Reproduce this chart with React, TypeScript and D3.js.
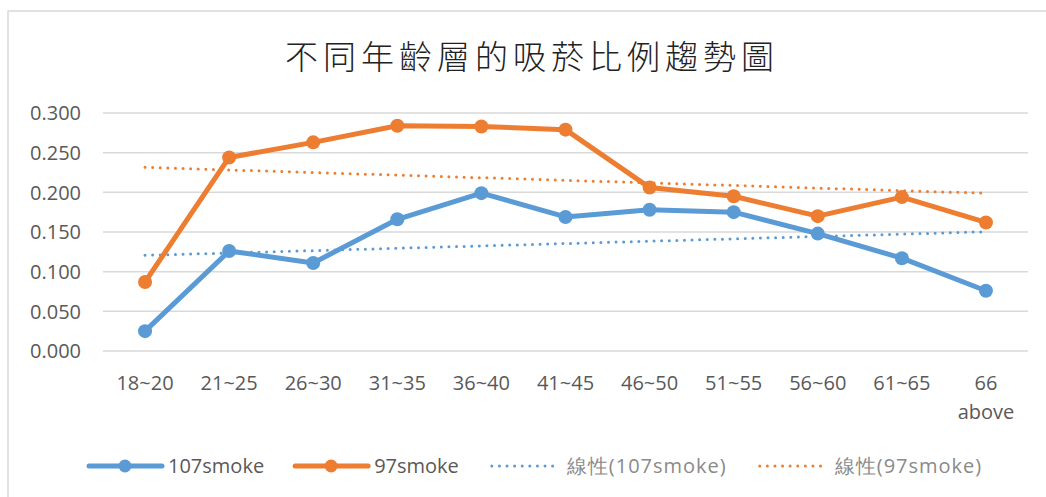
import { useEffect, useRef } from "react"
import * as d3 from "d3"

const title = "不同年齡層的吸菸比例趨勢圖"

const ageGroups = ["18~20", "21~25", "26~30", "31~35", "36~40", "41~45", "46~50", "51~55", "56~60", "61~65", "66\nabove"]

const smoke107 = [0.025, 0.126, 0.111, 0.166, 0.199, 0.169, 0.178, 0.175, 0.148, 0.117, 0.076]
const smoke97 = [0.087, 0.244, 0.263, 0.284, 0.283, 0.279, 0.206, 0.195, 0.17, 0.194, 0.162]

const yTicks = [0, 0.05, 0.1, 0.15, 0.2, 0.25, 0.3]

const seriesNames = ["107smoke", "97smoke"]
const trendNames = ["線性(107smoke)", "線性(97smoke)"]

const colors = ["#5b9bd5", "#ed7d31"]

const W = 1046
const H = 497
const FONT = "'Open Sans', 'Noto Sans', sans-serif"

// least squares fit over the category index
function linearFit(values: number[]) {
  const xs = values.map((_, i) => i)
  const mx = d3.mean(xs) as number
  const my = d3.mean(values) as number
  const sxy = d3.sum(values, (v, i) => (i - mx) * (v - my))
  const sxx = d3.sum(xs, (x) => (x - mx) * (x - mx))
  const slope = sxy / sxx
  return (i: number) => my + slope * (i - mx)
}

export default function App() {
  const svgRef = useRef<SVGSVGElement>(null)

  useEffect(() => {
    if (!svgRef.current) return
    const svg = d3.select(svgRef.current)
    svg.selectAll("*").remove()

    svg.append("rect").attr("width", W).attr("height", H).attr("fill", "#fff")

    // chart frame (runs off the right and bottom of the picture)
    svg
      .append("rect")
      .attr("x", 8)
      .attr("y", 11)
      .attr("width", W + 20)
      .attr("height", H + 20)
      .attr("fill", "none")
      .attr("stroke", "#d9d9d9")
      .attr("stroke-width", 1.5)

    svg
      .append("text")
      .attr("x", 532)
      .attr("y", 69)
      .attr("text-anchor", "middle")
      .attr("font-family", "'Noto Sans CJK TC', sans-serif")
      .attr("font-size", "33px")
      .attr("font-weight", 300)
      .attr("letter-spacing", "5px")
      .attr("fill", "#222")
      .text(title)

    const x = d3.scaleBand<string>().domain(ageGroups).range([103, 1028])
    const cx = (i: number) => (x(ageGroups[i]) as number) + x.bandwidth() / 2
    const y = d3.scaleLinear().domain([0, 0.3]).range([351, 113])

    // gridlines
    svg
      .append("g")
      .selectAll("line")
      .data(yTicks)
      .enter()
      .append("line")
      .attr("x1", 103)
      .attr("x2", 1028)
      .attr("y1", (d) => y(d))
      .attr("y2", (d) => y(d))
      .attr("stroke", "#d9d9d9")
      .attr("stroke-width", 1.5)

    // y labels
    svg
      .append("g")
      .selectAll("text")
      .data(yTicks)
      .enter()
      .append("text")
      .attr("x", 81)
      .attr("y", (d) => y(d))
      .attr("dy", "0.36em")
      .attr("text-anchor", "end")
      .attr("font-family", FONT)
      .attr("font-size", "20px")
      .attr("fill", "#595959")
      .text((d) => d3.format(".3f")(d))

    // x labels
    const xl = svg
      .append("g")
      .selectAll("text")
      .data(ageGroups)
      .enter()
      .append("text")
      .attr("text-anchor", "middle")
      .attr("font-family", FONT)
      .attr("font-size", "20px")
      .attr("fill", "#595959")
    xl.each(function (d, i) {
      const t = d3.select(this)
      d.split("\n").forEach((part, j) => {
        t.append("tspan").attr("x", cx(i)).attr("y", 390 + j * 29).text(part)
      })
    })

    const line = d3
      .line<number>()
      .x((_, i) => cx(i))
      .y((d) => y(d))

    const allSeries = [smoke107, smoke97]

    // trend lines
    allSeries.forEach((vals, s) => {
      const fit = linearFit(vals)
      const n = vals.length - 1
      svg
        .append("line")
        .attr("x1", cx(0))
        .attr("x2", cx(n))
        .attr("y1", y(fit(0)))
        .attr("y2", y(fit(n)))
        .attr("stroke", colors[s])
        .attr("stroke-width", 3)
        .attr("stroke-linecap", "round")
        .attr("stroke-dasharray", "0 7.6")
    })

    // data lines + markers
    allSeries.forEach((vals, s) => {
      svg
        .append("path")
        .datum(vals)
        .attr("d", line)
        .attr("fill", "none")
        .attr("stroke", colors[s])
        .attr("stroke-width", 5)
        .attr("stroke-linejoin", "round")
      svg
        .append("g")
        .selectAll("circle")
        .data(vals)
        .enter()
        .append("circle")
        .attr("cx", (_, i) => cx(i))
        .attr("cy", (d) => y(d))
        .attr("r", 7)
        .attr("fill", colors[s])
    })

    // legend
    const items = [
      ...seriesNames.map((name, i) => ({ name, color: colors[i], trend: false })),
      ...trendNames.map((name, i) => ({ name, color: colors[i], trend: true })),
    ]
    const ly = 466
    let lx = 89
    items.forEach((it) => {
      const g = svg.append("g").attr("transform", `translate(${lx},0)`)
      if (it.trend) {
        g.append("line")
          .attr("x1", 2)
          .attr("x2", 66)
          .attr("y1", ly)
          .attr("y2", ly)
          .attr("stroke", it.color)
          .attr("stroke-width", 3)
          .attr("stroke-linecap", "round")
          .attr("stroke-dasharray", "0 7.6")
      } else {
        g.append("line")
          .attr("x1", 0)
          .attr("x2", 73)
          .attr("y1", ly)
          .attr("y2", ly)
          .attr("stroke", it.color)
          .attr("stroke-width", 5)
          .attr("stroke-linecap", "round")
        g.append("circle").attr("cx", 36).attr("cy", ly).attr("r", 6.5).attr("fill", it.color)
      }
      const sampleW = it.trend ? 77 : 79
      const t = g
        .append("text")
        .attr("x", sampleW)
        .attr("y", ly)
        .attr("dy", "0.36em")
        .attr("font-family", FONT)
        .attr("font-size", "20px")
        .attr("letter-spacing", it.trend ? "1px" : "0px")
        .attr("fill", it.trend ? "#8a8a8a" : "#595959")
        .text(it.name)
      const tw = (t.node() as SVGTextElement).getComputedTextLength()
      lx += sampleW + tw + 31
    })
  }, [])

  return (
    <svg
      ref={svgRef}
      width={W}
      height={H}
      style={{ position: "absolute", left: 0, top: 0, display: "block" }}
    />
  )
}
